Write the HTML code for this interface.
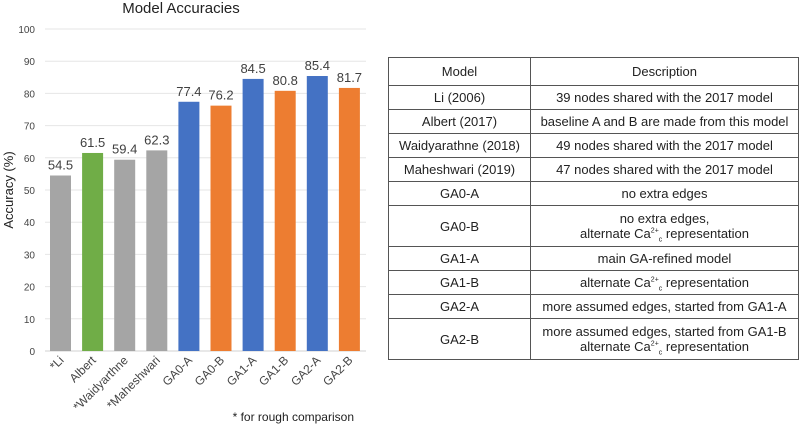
<!DOCTYPE html>
<html><head><meta charset="utf-8"><style>
body{margin:0;width:800px;height:424px;background:#fff;overflow:hidden;font-family:"Liberation Sans",sans-serif;}
svg{position:absolute;left:0;top:0}
table{position:absolute;left:388px;top:57px;width:411px;border-collapse:collapse;font-size:13px;color:#222;}
td{border:1px solid #555;text-align:center;padding:0;line-height:15px;white-space:nowrap;}
sup,sub{font-size:7px;line-height:0}
</style></head><body>
<svg id="chart" width="400" height="424"></svg>
<table>
<tr style="height:28px"><td style="width:141px">Model</td><td>Description</td></tr>
<tr style="height:24px"><td>Li (2006)</td><td>39 nodes shared with the 2017 model</td></tr>
<tr style="height:24px"><td>Albert (2017)</td><td>baseline A and B are made from this model</td></tr>
<tr style="height:24px"><td>Waidyarathne (2018)</td><td>49 nodes shared with the 2017 model</td></tr>
<tr style="height:24px"><td>Maheshwari (2019)</td><td>47 nodes shared with the 2017 model</td></tr>
<tr style="height:24px"><td>GA0-A</td><td>no extra edges</td></tr>
<tr style="height:41px"><td>GA0-B</td><td>no extra edges,<br>alternate Ca<sup>2+</sup><sub>c</sub> representation</td></tr>
<tr style="height:24px"><td>GA1-A</td><td>main GA-refined model</td></tr>
<tr style="height:24px"><td>GA1-B</td><td>alternate Ca<sup>2+</sup><sub>c</sub> representation</td></tr>
<tr style="height:24px"><td>GA2-A</td><td>more assumed edges, started from GA1-A</td></tr>
<tr style="height:41px"><td>GA2-B</td><td>more assumed edges, started from GA1-B<br>alternate Ca<sup>2+</sup><sub>c</sub> representation</td></tr>
</table>
<script>
const categories=["*Li","Albert","*Waidyarthne","*Maheshwari","GA0-A","GA0-B","GA1-A","GA1-B","GA2-A","GA2-B"];
const values=[54.5,61.5,59.4,62.3,77.4,76.2,84.5,80.8,85.4,81.7];
const colorKeys=["gray","green","gray","gray","blue","orange","blue","orange","blue","orange"];
const yTicks=[0,10,20,30,40,50,60,70,80,90,100];
const palette={gray:"#a5a5a5",green:"#70ad47",blue:"#4472c4",orange:"#ed7d31"};
const svg=document.getElementById('chart');const NS="http://www.w3.org/2000/svg";
const y=v=>351-v*3.22;const x=i=>60.5+i*32.1;
function mk(t,a,txt){const e=document.createElementNS(NS,t);for(const k in a)e.setAttribute(k,a[k]);if(txt!==undefined)e.textContent=txt;svg.appendChild(e);return e;}
let e=mk('text',{x:181,y:13,'text-anchor':'middle','font-size':15,fill:'#222'},'Model Accuracies');


e=mk('text',{transform:'translate(13,190) rotate(-90)','text-anchor':'middle','font-size':13,fill:'#222'},'Accuracy (%)');


yTicks.forEach(t=>{
 const g=mk('line',{x1:45,x2:366,y1:y(t),y2:y(t),stroke:t===0?'#d0d0d0':'#e6e6e6','stroke-width':1});
 
 
 const l=mk('text',{x:35,y:y(t)+4,'text-anchor':'end','font-size':10,fill:'#444'},t);
 
 
});
categories.forEach((c,i)=>{
 const v=values[i];
 const b=mk('rect',{x:x(i)-10.5,y:y(v),width:21,height:y(0)-y(v),fill:palette[colorKeys[i]]});
 
 
 const t=mk('text',{x:x(i),y:y(v)-6,'text-anchor':'middle','font-size':13,fill:'#404040'},v.toFixed(1));
 
 
 const xl=mk('text',{transform:`translate(${x(i)+4},${361}) rotate(-45)`,'text-anchor':'end','font-size':12,fill:'#444'},c);
 
 
});
e=mk('text',{x:354,y:421,'text-anchor':'end','font-size':12,fill:'#222'},'* for rough comparison');


</script>
</body></html>
